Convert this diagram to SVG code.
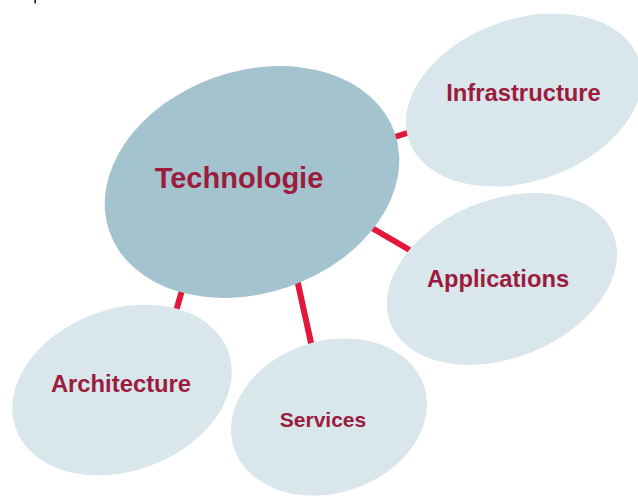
<svg xmlns="http://www.w3.org/2000/svg" width="638" height="497" viewBox="0 0 638 497">
  <style>
    .link { stroke: #e3173a; stroke-width: 6; stroke-linecap: butt; fill: none; }
    .hub { fill: #a3c4cf; }
    .leaf { fill: #d9e6ec; }
    .label { font-family: "Liberation Sans", Arial, sans-serif; font-weight: bold; fill: #9b1c3d; text-anchor: middle; }
  </style>
  <rect width="638" height="497" fill="#ffffff"/>
  <rect x="34.3" y="0" width="1.7" height="3.3" fill="#222222"/>

  <!-- spokes from the hub to each topic, drawn beneath the ellipses -->
  <g id="connectors">
    <line class="link" x1="385" y1="140" x2="420" y2="129"/>
    <line class="link" x1="360" y1="221" x2="420" y2="256"/>
    <line class="link" x1="185" y1="280" x2="174" y2="318"/>
    <line class="link" x1="295" y1="270" x2="313" y2="352"/>
  </g>

  <g id="technologie">
    <ellipse class="hub" cx="252" cy="182" rx="151" ry="111" transform="rotate(-19 252 182)"/>
    <text class="label" x="239" y="188" font-size="29">Technologie</text>
  </g>

  <g id="infrastructure">
    <ellipse class="leaf" cx="524" cy="100" rx="122" ry="81" transform="rotate(-19.5 524 100)"/>
    <text class="label" x="523.5" y="101" font-size="23.8">Infrastructure</text>
  </g>

  <g id="applications">
    <ellipse class="leaf" cx="502" cy="279" rx="120" ry="79" transform="rotate(-22 502 279)"/>
    <text class="label" x="498" y="287" font-size="23.7">Applications</text>
  </g>

  <g id="architecture">
    <ellipse class="leaf" cx="122" cy="390" rx="113" ry="81" transform="rotate(-20 122 390)"/>
    <text class="label" x="121" y="392" font-size="23.8">Architecture</text>
  </g>

  <g id="services">
    <ellipse class="leaf" cx="329" cy="417" rx="100" ry="76" transform="rotate(-18 329 417)"/>
    <text class="label" x="323" y="427" font-size="21">Services</text>
  </g>
</svg>
